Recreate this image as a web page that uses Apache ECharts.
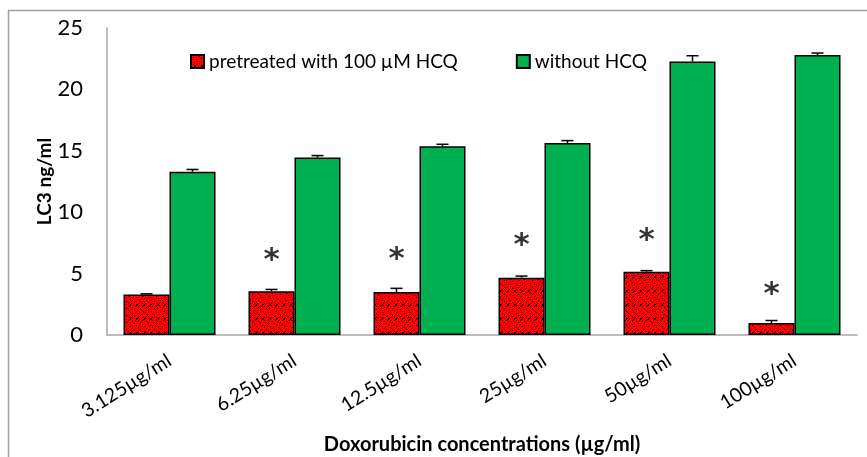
<!DOCTYPE html>
<html>
<head>
<meta charset="utf-8">
<script src="https://cdn.jsdelivr.net/npm/echarts@6/dist/echarts.min.js"></script>
<style>
html,body{margin:0;padding:0;background:#fff;}
#c{width:867px;height:457px;}
</style>
</head>
<body>
<div id="c"></div>
<script>
var categories = ['3.125µg/ml', '6.25µg/ml', '12.5µg/ml', '25µg/ml', '50µg/ml', '100µg/ml'];
var seriesNames = ['pretreated with 100 µM HCQ', 'without HCQ'];
var hcqValues = [3.3, 3.57, 3.5, 4.67, 5.16, 0.98];
var hcqErrors = [0.05, 0.14, 0.3, 0.13, 0.08, 0.2];
var noHcqValues = [13.3, 14.45, 15.37, 15.64, 22.28, 22.8];
var noHcqErrors = [0.18, 0.16, 0.16, 0.19, 0.46, 0.16];
var starValues = [null, 6.78, 6.84, 7.98, 8.39, 3.99];
var yTicks = [0, 5, 10, 15, 20, 25];

var FONT = 'Lato';

function makePattern() {
  var s = 14;
  var cv = document.createElement('canvas');
  cv.width = s; cv.height = s;
  var ctx = cv.getContext('2d');
  ctx.fillStyle = '#ff0000';
  ctx.fillRect(0, 0, s, s);
  ctx.fillStyle = '#000000';
  for (var x = 0; x < s; x++) {
    for (var y = 0; y < s; y++) {
      var d1 = (x + y) % s;
      var d2 = (x - y + s) % s;
      var a = d1 === 0 && (x % s) >= 2 && (x % s) < 6;
      var b = d1 === 7 && (x % s) >= 9 && (x % s) < 13;
      var c = (d2 === 0 || d2 === 7) && (x % 2 === 0);
      if (a || b || c) ctx.fillRect(x, y, 1, 1);
    }
  }
  return cv;
}
var pattern = makePattern();

var chart = echarts.init(document.getElementById('c'), null, {renderer: 'canvas'});

var BW = 46;
function errorRender(offset) {
  return function (params, api) {
    var idx = api.value(0);
    var v = api.value(1);
    var e = api.value(2);
    var p0 = api.coord([idx, v]);
    var p1 = api.coord([idx, v + e]);
    var x = p0[0] + offset;
    var style = {stroke: '#000', lineWidth: 1.5};
    return {
      type: 'group',
      children: [
        {type: 'line', shape: {x1: x, y1: p0[1], x2: x, y2: p1[1]}, style: style},
        {type: 'line', shape: {x1: x - 6, y1: p1[1], x2: x + 6, y2: p1[1]}, style: style}
      ]
    };
  };
}

var option = {
  animation: false,
  backgroundColor: '#fff',
  textStyle: {fontFamily: FONT},
  graphic: [
    {type: 'rect', shape: {x: 8.5, y: 10.5, width: 1000, height: 1000},
     style: {fill: 'none', stroke: '#a0a0a0', lineWidth: 1.5}, z: -1}
  ],
  legend: {
    left: 185, top: 47,
    itemWidth: 13, itemHeight: 13, itemGap: 58,
    icon: 'rect',
    textStyle: {fontFamily: FONT, fontSize: 19, color: '#000'},
    data: seriesNames
  },
  grid: {left: 107, right: 10, top: 28, bottom: 122, containLabel: false, outerBoundsMode: 'none'},
  xAxis: {
    type: 'category',
    data: categories,
    axisLine: {lineStyle: {color: '#a6a6a6', width: 1.5}},
    axisTick: {show: false},
    axisLabel: {rotate: 32, fontFamily: FONT, fontSize: 19.5, color: '#000', margin: 24},
    name: 'Doxorubicin concentrations (µg/ml)',
    nameLocation: 'middle',
    nameMoveOverlap: false,
    nameGap: 100,
    nameTextStyle: {fontFamily: FONT, fontWeight: 'bold', fontSize: 20, color: '#000'}
  },
  yAxis: {
    type: 'value',
    min: 0, max: 25, interval: 5,
    axisLine: {show: true, lineStyle: {color: '#a6a6a6', width: 1.5}},
    axisTick: {show: false},
    splitLine: {show: false},
    axisLabel: {fontFamily: FONT, fontSize: 22, color: '#000', margin: 24,
      formatter: function (v) { return yTicks.indexOf(v) >= 0 ? String(v) : ''; }},
    name: 'LC3 ng/ml',
    nameLocation: 'middle',
    nameMoveOverlap: false,
    nameGap: 53,
    nameTextStyle: {fontFamily: FONT, fontWeight: 'bold', fontSize: 19, color: '#000'}
  },
  series: [
    {
      name: seriesNames[0], type: 'bar', barWidth: BW, barGap: '0%',
      data: hcqValues,
      itemStyle: {color: {image: pattern, repeat: 'repeat'}, borderColor: '#000', borderWidth: 1.5}
    },
    {
      name: seriesNames[1], type: 'bar', barWidth: BW, barGap: '0%',
      data: noHcqValues,
      itemStyle: {color: '#00b050', borderColor: '#000', borderWidth: 1.5}
    },
    {
      type: 'custom', renderItem: errorRender(-BW / 2), z: 5,
      data: hcqValues.map(function (v, i) { return [i, v, hcqErrors[i]]; })
    },
    {
      type: 'custom', renderItem: errorRender(BW / 2), z: 5,
      data: noHcqValues.map(function (v, i) { return [i, v, noHcqErrors[i]]; })
    },
    {
      type: 'scatter', symbolSize: 0, z: 6,
      data: starValues.map(function (v, i) { return v === null ? [i, '-'] : [i, v]; }),
      label: {show: true, position: 'inside', offset: [-BW / 2, 9], formatter: '*',
        fontFamily: 'DejaVu Sans', fontWeight: 'bold', fontSize: 31, color: '#000'}
    }
  ]
};
chart.setOption(option);
</script>
</body>
</html>
